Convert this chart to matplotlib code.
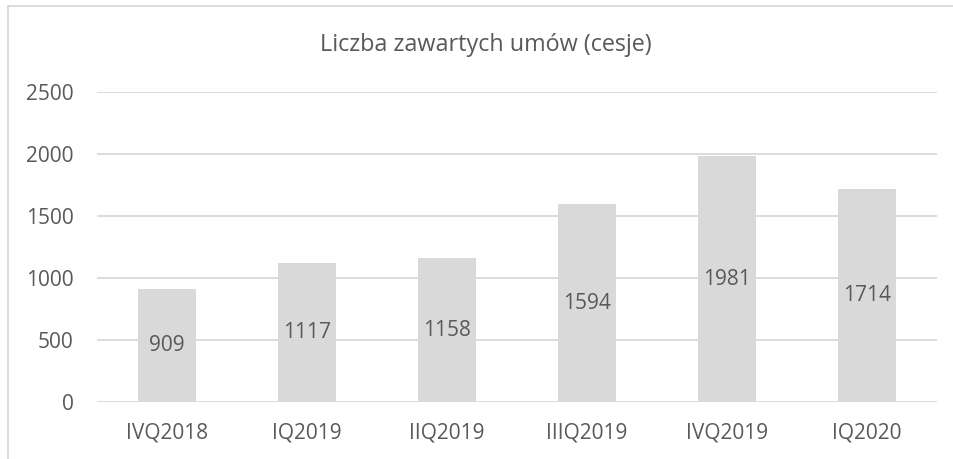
import matplotlib
matplotlib.use("Agg")
import matplotlib.pyplot as plt
from matplotlib.lines import Line2D

# dane
kwartaly = ["IVQ2018", "IQ2019", "IIQ2019", "IIIQ2019", "IVQ2019", "IQ2020"]
umowy = [909, 1117, 1158, 1594, 1981, 1714]
yticks = [0, 500, 1000, 1500, 2000, 2500]

plt.rcParams['font.family'] = ['Open Sans', 'DejaVu Sans']
szary = "#595959"
jasny = "#D9D9D9"

fig = plt.figure(figsize=(9.54, 4.59), dpi=100)
ax = fig.add_axes([97/954, 1-402/459, 840/954, 310/459])

x = range(len(kwartaly))
bars = ax.bar(x, umowy, width=0.41, color=jasny, zorder=2)
for xi, v in zip(x, umowy):
    ax.text(xi, v/2, str(v), ha="center", va="center", fontsize=15, color=szary, zorder=3)

ax.set_xlim(-0.5, len(kwartaly)-0.5)
ax.set_ylim(0, 2500)
ax.set_yticks(yticks)
ax.set_yticklabels([str(t) for t in yticks])
ax.set_xticks(list(x))
ax.set_xticklabels(kwartaly)
ax.tick_params(axis="both", length=0, labelsize=15, labelcolor=szary)
ax.tick_params(axis="y", pad=17)
ax.tick_params(axis="x", pad=15)
ax.grid(axis="y", color=jasny, linewidth=1.3, zorder=0)
for s in ax.spines.values():
    s.set_visible(False)

fig.text(486/954, 1-45/459, "Liczba zawartych umów (cesje)", ha="center", va="center",
         fontsize=16.8, color=szary)

# ramka wykresu
fig.add_artist(Line2D([8/954, 1], [1-6/459, 1-6/459], color=jasny, linewidth=1.3))
fig.add_artist(Line2D([8.5/954, 8.5/954], [0, 1-6/459], color=jasny, linewidth=1.3))

fig.savefig("out.png", dpi=100)
